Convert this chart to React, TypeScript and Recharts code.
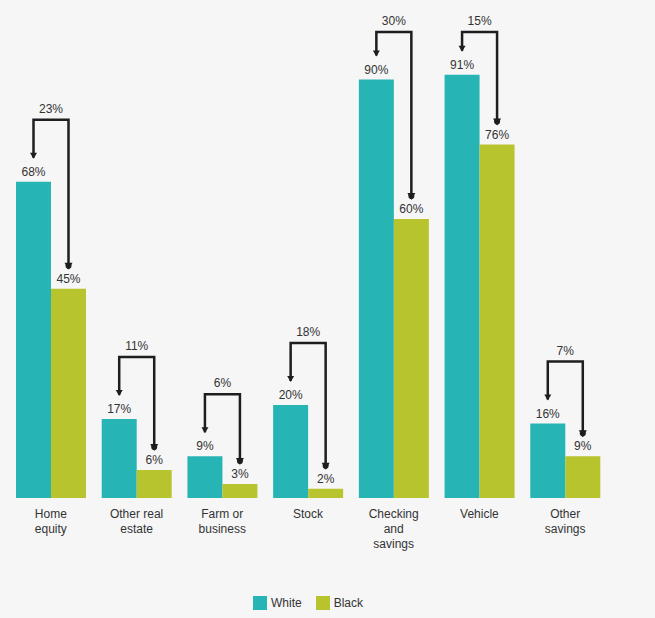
import React from "react"
import { Bar, BarChart, LabelList, Legend, XAxis, YAxis } from "recharts"

const categories = [
  "Home equity",
  "Other real estate",
  "Farm or business",
  "Stock",
  "Checking and savings",
  "Vehicle",
  "Other savings",
]
const whiteValues = [68, 17, 9, 20, 90, 91, 16]
const blackValues = [45, 6, 3, 2, 60, 76, 9]
const seriesNames = ["White", "Black"]

const TEAL = "#27b4b4"
const OLIVE = "#b7c42e"
const INK = "#1e1e1e"
const FONT = "'Liberation Sans', Arial, sans-serif"

const data = categories.map((name, i) => ({
  name,
  white: whiteValues[i],
  black: blackValues[i],
}))

function wrap(label: string, max = 10) {
  const words = label.split(" ")
  const lines: string[] = []
  let cur = ""
  for (const w of words) {
    const next = cur ? cur + " " + w : w
    if (next.length > max && cur) {
      lines.push(cur)
      cur = w
    } else cur = next
  }
  if (cur) lines.push(cur)
  return lines
}

function CategoryTick(props: any) {
  const { x, y, payload } = props
  const lines = wrap(payload.value)
  return (
    <text x={x} y={y + 12} textAnchor="middle" fill="#333" fontSize={12} fontFamily={FONT}>
      {lines.map((l: string, i: number) => (
        <tspan key={i} x={x} dy={i === 0 ? 0 : 15}>
          {l}
        </tspan>
      ))}
    </text>
  )
}

// bracket showing the gap between the two bars of a category
function GapBracket(props: any) {
  const { x, y, width, height, index } = props
  const w = whiteValues[index]
  const b = blackValues[index]
  const greenTop = y + height - (height * b) / w
  const lx = x + width / 2
  const rx = x + width * 1.5
  const top = Math.max(y - 62, 24)
  const leftEnd = y - 24
  const rightEnd = greenTop - 20
  return (
    <g>
      <path
        d={`M${lx},${leftEnd} L${lx},${top} L${rx},${top} L${rx},${rightEnd}`}
        fill="none"
        stroke={INK}
        strokeWidth={2.5}
      />
      <path d={`M${lx - 3.5},${leftEnd - 5} L${lx + 3.5},${leftEnd - 5} L${lx},${leftEnd + 1} Z`} fill={INK} />
      <path d={`M${rx - 4},${rightEnd - 6} L${rx + 4},${rightEnd - 6} L${rx},${rightEnd + 1} Z`} fill={INK} />
      <circle cx={rx} cy={rightEnd - 3} r={3} fill={INK} />
      <text x={(lx + rx) / 2} y={top - 7} textAnchor="middle" fontSize={12} fill="#333" fontFamily={FONT}>
        {w - b}%
      </text>
    </g>
  )
}

function LegendContent() {
  const items = [
    { label: seriesNames[0], color: TEAL },
    { label: seriesNames[1], color: OLIVE },
  ]
  return (
    <div
      style={{
        display: "flex",
        justifyContent: "center",
        gap: 14,
        paddingTop: 38,
        fontFamily: FONT,
        fontSize: 12,
        color: "#333",
      }}
    >
      {items.map((it) => (
        <span key={it.label} style={{ display: "flex", alignItems: "center", gap: 4 }}>
          <span style={{ width: 14, height: 14, background: it.color, display: "inline-block" }} />
          {it.label}
        </span>
      ))}
    </div>
  )
}

export default function App() {
  return (
    <div style={{ width: 655, height: 618, background: "#f6f6f6", position: "absolute", left: 0, top: 0 }}>
      <div style={{ position: "absolute", left: 8, top: 8 }}>
        <BarChart
          width={600}
          height={610}
          data={data}
          margin={{ top: 25, right: 0, bottom: 0, left: 0 }}
          barSize={35}
          barGap={0}
        >
          <XAxis
            dataKey="name"
            axisLine={false}
            tickLine={false}
            interval={0}
            height={60}
            tick={<CategoryTick />}
          />
          <YAxis hide domain={[0, 100]} />
          <Legend verticalAlign="bottom" height={60} content={<LegendContent />} />
          <Bar dataKey="white" fill={TEAL} isAnimationActive={false}>
            <LabelList
              dataKey="white"
              position="top"
              offset={6}
              formatter={(v: any) => `${v}%`}
              style={{ fontSize: 12, fill: "#333", fontFamily: FONT }}
            />
            <LabelList dataKey="white" content={<GapBracket />} />
          </Bar>
          <Bar dataKey="black" fill={OLIVE} isAnimationActive={false}>
            <LabelList
              dataKey="black"
              position="top"
              offset={6}
              formatter={(v: any) => `${v}%`}
              style={{ fontSize: 12, fill: "#333", fontFamily: FONT }}
            />
          </Bar>
        </BarChart>
      </div>
    </div>
  )
}
